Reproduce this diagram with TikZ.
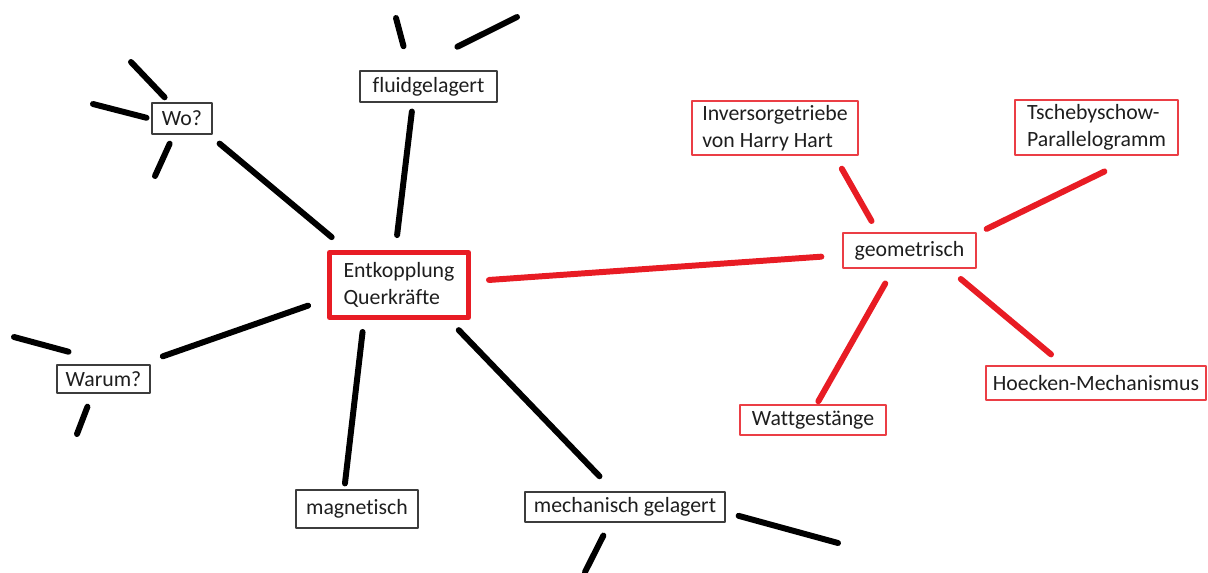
\documentclass[tikz,border=0pt]{standalone}
\usepackage{fontspec}
\setmainfont{Carlito}[Ligatures=NoCommon]
\definecolor{mmred}{RGB}{232,28,36}
\definecolor{boxgray}{RGB}{60,60,60}
\definecolor{txtgray}{RGB}{30,30,30}

\begin{document}
\begin{tikzpicture}[line cap=round,line join=round,x=0.02cm,y=-0.02cm,
  every node/.style={font=\fontsize{12.4}{15.5}\selectfont,text=txtgray},
  box/.style={draw=boxgray,line width=0.7pt,inner sep=0pt,align=left},
  redbox/.style={draw=mmred!85,line width=0.8pt,inner sep=0pt,align=left},
  hub/.style={draw=mmred,line width=2.9pt,inner sep=0pt,align=left},
  link/.style={line width=3.4pt,color=black},
  redlink/.style={line width=3.4pt,color=mmred}]
\useasboundingbox (0,0) rectangle (1208,572);
% nodes
\node[hub,minimum width=2.78cm,minimum height=1.3cm] (entk) at (399,285) {Entkopplung\\Querkr\"afte};
\node[box,minimum width=1.2cm,minimum height=0.62cm] (wo) at (182,118.5) {Wo?};
\node[box,minimum width=2.74cm,minimum height=0.62cm] (fluid) at (428.5,86.5) {fluidgelagert};
\node[box,minimum width=1.86cm,minimum height=0.56cm] (warum) at (103.5,379) {Warum?};
\node[box,minimum width=2.44cm,minimum height=0.76cm] (magn) at (357,509) {magnetisch};
\node[box,minimum width=4.0cm,minimum height=0.6cm] (mech) at (625,507) {mechanisch gelagert};
\node[redbox,minimum width=2.66cm,minimum height=0.7cm] (geo) at (909.5,250.5) {geometrisch};
\node[redbox,minimum width=3.32cm,minimum height=1.08cm] (inv) at (775,128) {Inversorgetriebe\\von Harry Hart};
\node[redbox,minimum width=3.26cm,minimum height=1.1cm] (tsch) at (1096.5,127.5) {Tschebyschow-\\Parallelogramm};
\node[redbox,minimum width=4.4cm,minimum height=0.68cm] (hoeck) at (1096,383) {Hoecken-Mechanismus};
\node[redbox,minimum width=2.92cm,minimum height=0.6cm] (watt) at (813,420) {Wattgest\"ange};
% free ends
\coordinate (woA) at (131,62);
\coordinate (woB) at (93,104);
\coordinate (woC) at (155,176);
\coordinate (fluidA) at (396,18);
\coordinate (fluidB) at (517,17);
\coordinate (warumA) at (14,337);
\coordinate (warumB) at (77,434);
\coordinate (mechA) at (838,543);
\coordinate (mechB) at (585,572);
% black branches
\draw[link,shorten <=0.28cm,shorten >=0.40cm] (wo.-31.5) -- (entk.146.8);
\draw[link,shorten <=0.18cm,shorten >=0.30cm] (fluid.-134.8) -- (entk.96.2);
\draw[link,shorten <=0.40cm,shorten >=0.49cm] (entk.191.3) -- (warum.22.8);
\draw[link,shorten <=0.24cm,shorten >=0.12cm] (entk.225.3) -- (magn.123.8);
\draw[link,shorten <=0.28cm,shorten >=0.42cm] (entk.-35.4) -- (mech.125);
\draw[link,shorten <=0.14cm] (wo.128.4) -- (woA);
\draw[link,shorten <=0.10cm] (wo.181.5) -- (woB);
\draw[link,shorten <=0.20cm] (wo.243) -- (woC);
\draw[link,shorten <=0.50cm] (fluid.139) -- (fluidA);
\draw[link,shorten <=1.06cm] (fluid.139) -- (fluidB);
\draw[link,shorten <=0.97cm] (warum.51) -- (warumA);
\draw[link,shorten <=0.28cm] (warum.233.4) -- (warumB);
\draw[link,shorten <=0.27cm] (mech.-3.8) -- (mechA);
\draw[link,shorten <=0.29cm] (mech.226.4) -- (mechB);
% red branches
\draw[redlink,shorten <=0.36cm,shorten >=0.42cm] (entk.3) -- (geo.184.3);
\draw[redlink,shorten <=0.26cm,shorten >=0.30cm] (geo.150.6) -- (inv.-25.2);
\draw[redlink,shorten <=0.22cm,shorten >=0.72cm] (geo.14.7) -- (tsch.-35.9);
\draw[redlink,shorten <=0.32cm,shorten >=0.34cm] (geo.-25.7) -- (hoeck.151);
\draw[redlink,shorten <=0.34cm,shorten >=0.07cm] (geo.229.6) -- (watt.77.6);
\end{tikzpicture}
\end{document}
